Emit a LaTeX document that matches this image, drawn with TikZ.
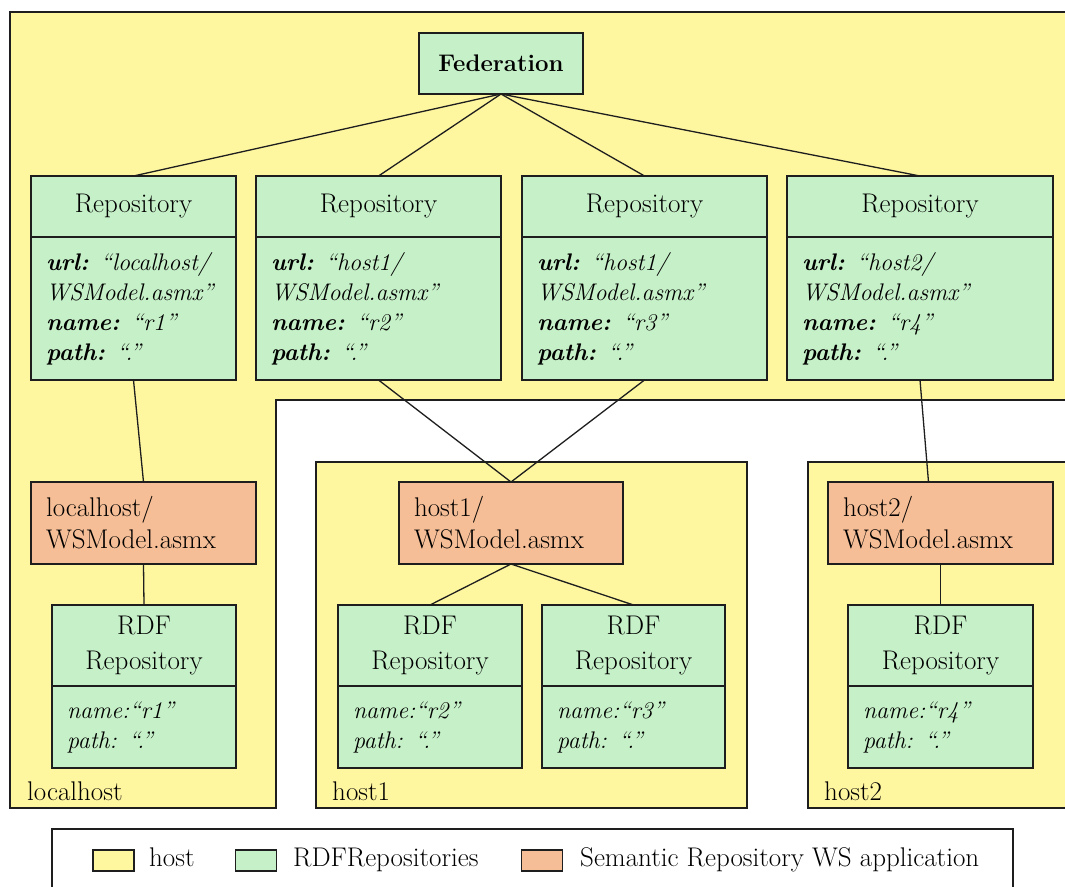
\documentclass[tikz,border=0pt]{standalone}
\usepackage{tikz}
\definecolor{hostfill}{RGB}{255,246,160}
\definecolor{repofill}{RGB}{198,240,200}
\definecolor{wsfill}{RGB}{246,190,150}
\definecolor{ink}{RGB}{30,30,30}
\tikzset{
  every node/.style={font=\fontsize{27}{32}\selectfont},
  box/.style={draw=ink, line width=1.2pt, anchor=north west, inner ysep=0pt,
              inner xsep=15pt, outer sep=0pt},
  head/.style={box, fill=repofill, align=center},
  body/.style={box, fill=repofill, align=left,
               font=\fontsize{24}{30}\selectfont\itshape},
  wsbox/.style={box, fill=wsfill, align=left},
  link/.style={draw=ink, line width=1.3pt},
  region/.style={draw=ink, line width=1.2pt, fill=hostfill},
  hostlabel/.style={anchor=base west, inner sep=0pt},
  swatch/.style={draw=ink, line width=1.2pt, minimum width=41pt,
                 minimum height=21pt, inner sep=0pt},
}
\newcommand{\fld}[1]{\textbf{#1}}
\begin{document}
\begin{tikzpicture}[x=1pt, y=-1pt]
\useasboundingbox (0,0) rectangle (1065,886);
\clip (0,0) rectangle (1065,886);
\fill[white] (0,0) rectangle (1065,886);

% host regions
\draw[region] (10,12) -- (1080,12) -- (1080,400) -- (276,400) -- (276,808)
  -- (10,808) -- cycle;
\draw[region] (316,462) rectangle (747,808);
\draw[region] (808,462) rectangle (1080,808);
\node[hostlabel] (lhlab) at (27,800) {localhost};
\node[hostlabel] (h1lab) at (332,800) {host1};
\node[hostlabel] (h2lab) at (824,800) {host2};

% federation
\node[head, text width=134pt, minimum height=61pt,
      font=\fontsize{24}{30}\selectfont\bfseries] (fed) at (419,33) {Federation};

% repositories
\node[head, text width=175pt, minimum height=61pt] (r1h) at (31,176) {Repository};
\node[body, text width=175pt, minimum height=143pt] (r1b) at (31,237)
  {\fld{url:} ``localhost/\\WSModel.asmx''\\\fld{name:} ``r1''\\\fld{path:} ``.''};
\node[head, text width=215pt, minimum height=61pt] (r2h) at (256,176) {Repository};
\node[body, text width=215pt, minimum height=143pt] (r2b) at (256,237)
  {\fld{url:} ``host1/\\WSModel.asmx''\\\fld{name:} ``r2''\\\fld{path:} ``.''};
\node[head, text width=215pt, minimum height=61pt] (r3h) at (522,176) {Repository};
\node[body, text width=215pt, minimum height=143pt] (r3b) at (522,237)
  {\fld{url:} ``host1/\\WSModel.asmx''\\\fld{name:} ``r3''\\\fld{path:} ``.''};
\node[head, text width=236pt, minimum height=61pt] (r4h) at (787,176) {Repository};
\node[body, text width=236pt, minimum height=143pt] (r4b) at (787,237)
  {\fld{url:} ``host2/\\WSModel.asmx''\\\fld{name:} ``r4''\\\fld{path:} ``.''};

% web service applications
\node[wsbox, text width=195pt, minimum height=82pt] (ws0) at (31,482)
  {localhost/\\WSModel.asmx};
\node[wsbox, text width=194pt, minimum height=82pt] (ws1) at (399,482)
  {host1/\\WSModel.asmx};
\node[wsbox, text width=195pt, minimum height=82pt] (ws2) at (828,482)
  {host2/\\WSModel.asmx};

% RDF repositories
\node[head, text width=154pt, minimum height=81pt,
      font=\fontsize{27}{35}\selectfont] (d1h) at (52,605) {RDF\\Repository};
\node[body, text width=154pt, minimum height=82pt] (d1b) at (52,686)
  {name:``r1''\\path: ``.''};
\node[head, text width=154pt, minimum height=81pt,
      font=\fontsize{27}{35}\selectfont] (d2h) at (338,605) {RDF\\Repository};
\node[body, text width=154pt, minimum height=82pt] (d2b) at (338,686)
  {name:``r2''\\path: ``.''};
\node[head, text width=153pt, minimum height=81pt,
      font=\fontsize{27}{35}\selectfont] (d3h) at (542,605) {RDF\\Repository};
\node[body, text width=153pt, minimum height=82pt] (d3b) at (542,686)
  {name:``r3''\\path: ``.''};
\node[head, text width=155pt, minimum height=81pt,
      font=\fontsize{27}{35}\selectfont] (d4h) at (848,605) {RDF\\Repository};
\node[body, text width=155pt, minimum height=82pt] (d4b) at (848,686)
  {name:``r4''\\path: ``.''};

% connectors
\draw[link] (fed.south) -- (r1h.north);
\draw[link] (fed.south) -- (r2h.north);
\draw[link] (fed.south) -- (r3h.north);
\draw[link] (fed.south) -- (r4h.north);
\draw[link] (r1b.south) -- (ws0.north);
\draw[link] (r2b.south) -- (ws1.north);
\draw[link] (r3b.south) -- (ws1.north);
\draw[link] (r4b.south) -- ([xshift=-12pt]ws2.north);
\draw[link] (ws0.south) -- (d1h.north);
\draw[link] (ws1.south) -- (d2h.north);
\draw[link] (ws1.south) -- (d3h.north);
\draw[link] (ws2.south) -- (d4h.north);

% legend
\draw[draw=ink, line width=1.2pt, fill=white] (52,829) rectangle (1013,900);
\node[swatch, fill=hostfill] (kh) at (113.5,860.5) {};
\node[swatch, fill=repofill] (kr) at (256,860.5) {};
\node[swatch, fill=wsfill] (kw) at (542,860.5) {};
\node[hostlabel] (kht) at (149,866) {host};
\node[hostlabel] (krt) at (293,866) {RDFRepositories};
\node[hostlabel] (kwt) at (580,866) {Semantic Repository WS application};
\end{tikzpicture}
\end{document}
